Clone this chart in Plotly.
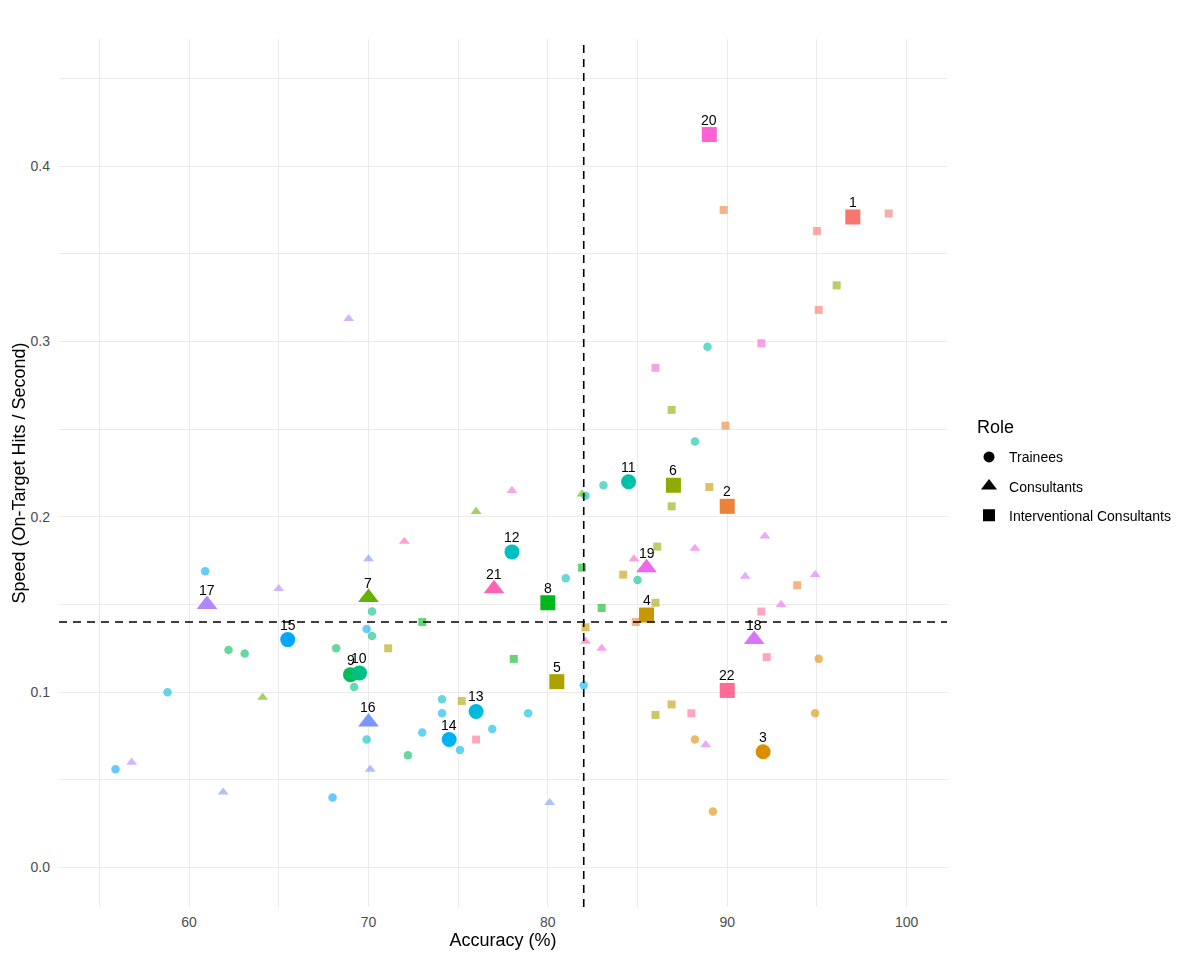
import math
import plotly.graph_objects as go

# ---------------- data ----------------
participant_ids = list(range(1, 23))
participant_roles = [
    "Interventional Consultants", "Interventional Consultants", "Trainees",
    "Interventional Consultants", "Interventional Consultants", "Interventional Consultants",
    "Consultants", "Interventional Consultants", "Trainees", "Trainees", "Trainees",
    "Trainees", "Trainees", "Trainees", "Trainees", "Consultants", "Consultants",
    "Consultants", "Consultants", "Interventional Consultants", "Consultants",
    "Interventional Consultants",
]
mean_accuracy = [97.0, 90.0, 92.0, 85.5, 80.5, 87.0, 70.0, 80.0, 69.0, 69.5, 84.5,
                 78.0, 76.0, 74.5, 65.5, 70.0, 61.0, 91.5, 85.5, 89.0, 77.0, 90.0]
mean_speed = [0.371, 0.206, 0.066, 0.144, 0.106, 0.218, 0.154, 0.151, 0.110, 0.111, 0.220,
              0.180, 0.089, 0.073, 0.130, 0.083, 0.150, 0.130, 0.171, 0.418, 0.159, 0.101]

trial_participant = [1, 1, 1,
                     2, 2, 2, 2,
                     3, 3, 3, 3,
                     4, 4, 4, 4,
                     5, 5, 5, 5,
                     6, 6, 6, 6,
                     7, 7, 7,
                     8, 8, 8, 8,
                     9, 9, 9, 9,
                     10, 10, 10, 10,
                     11, 11, 11,
                     12, 12, 12, 12,
                     13, 13, 13, 13,
                     14, 14, 14, 14,
                     15, 15, 15,
                     16, 16, 16, 16,
                     17, 17, 17,
                     18, 18, 18, 18,
                     19, 19, 19, 19,
                     20, 20,
                     21, 21, 21,
                     22, 22, 22, 22]
trial_accuracy = [95.0, 99.0, 95.1,
                  89.8, 89.9, 93.9, 84.9,
                  95.1, 94.9, 88.2, 89.2,
                  89.0, 84.2, 82.1, 86.9,
                  86.0, 86.0, 71.1, 75.2,
                  96.1, 86.9, 86.9, 86.1,
                  81.9, 76.0, 64.1,
                  81.9, 83.0, 78.1, 73.0,
                  62.2, 63.1, 68.2, 72.2,
                  85.0, 70.2, 70.2, 69.2,
                  88.9, 83.1, 88.2,
                  82.1, 81.0, 74.1, 69.9,
                  78.9, 58.8, 76.9, 75.1,
                  82.0, 69.9, 74.1, 73.0,
                  60.9, 55.9, 68.0,
                  80.1, 70.0, 70.1, 61.9,
                  65.0, 56.8, 68.9,
                  92.1, 91.0, 94.9, 88.8,
                  78.0, 88.2, 93.0, 83.0,
                  91.9, 86.0,
                  84.8, 82.1, 72.0,
                  91.9, 92.2, 88.0, 76.0]
trial_speed = [0.363, 0.373, 0.318,
               0.375, 0.252, 0.161, 0.140,
               0.119, 0.088, 0.073, 0.032,
               0.217, 0.167, 0.137, 0.093,
               0.151, 0.087, 0.125, 0.095,
               0.332, 0.261, 0.206, 0.183,
               0.213, 0.203, 0.097,
               0.171, 0.148, 0.119, 0.140,
               0.124, 0.122, 0.125, 0.064,
               0.164, 0.146, 0.132, 0.103,
               0.297, 0.218, 0.243,
               0.212, 0.165, 0.096, 0.073,
               0.088, 0.100, 0.079, 0.067,
               0.104, 0.136, 0.088, 0.077,
               0.169, 0.056, 0.040,
               0.037, 0.176, 0.056, 0.043,
               0.159, 0.060, 0.313,
               0.189, 0.166, 0.167, 0.070,
               0.215, 0.182, 0.150, 0.125,
               0.299, 0.285,
               0.176, 0.129, 0.186,
               0.146, 0.120, 0.088, 0.073]

role_levels = ["Trainees", "Consultants", "Interventional Consultants"]
accuracy_cutoff = 82.0
speed_cutoff = 0.140


# ---------------- ggplot-like hue palette ----------------
def hcl_to_hex(h, c=100.0, l=65.0):
    WHITE_Y, WHITE_u, WHITE_v = 100.0, 0.1978398, 0.4683363
    hr = math.radians(h)
    U, V = c * math.cos(hr), c * math.sin(hr)
    Y = WHITE_Y * (((l + 16) / 116) ** 3 if l > 7.999592 else l / 903.3)
    u = U / (13 * l) + WHITE_u
    v = V / (13 * l) + WHITE_v
    X = 9.0 * Y * u / (4 * v)
    Z = -X / 3 - 5 * Y + 3 * Y / v

    def gt(x):
        return 1.055 * x ** (1 / 2.4) - 0.055 if x > 0.00304 else 12.92 * x

    r = gt((3.240479 * X - 1.537150 * Y - 0.498535 * Z) / WHITE_Y)
    g = gt((-0.969256 * X + 1.875992 * Y + 0.041556 * Z) / WHITE_Y)
    b = gt((0.055648 * X - 0.204043 * Y + 1.057311 * Z) / WHITE_Y)
    return "#%02X%02X%02X" % tuple(int(round(max(0, min(1, t)) * 255)) for t in (r, g, b))


n = len(participant_ids)
palette = {pid: hcl_to_hex(15 + i * 360.0 / n) for i, pid in enumerate(participant_ids)}
role_of = dict(zip(participant_ids, participant_roles))

symbols = {"Trainees": "circle", "Consultants": "triangle-up", "Interventional Consultants": "square"}
small_size = {"Trainees": 8.5, "Consultants": 9.5, "Interventional Consultants": 8}
big_size = {"Trainees": 15, "Consultants": 18, "Interventional Consultants": 15}
legend_size = {"Trainees": 11, "Consultants": 14, "Interventional Consultants": 12}

fig = go.Figure()

# individual (small, translucent) points
for role in role_levels:
    idx = [i for i, p in enumerate(trial_participant) if role_of[p] == role]
    fig.add_trace(go.Scatter(
        x=[trial_accuracy[i] for i in idx],
        y=[trial_speed[i] for i in idx],
        mode="markers",
        marker=dict(symbol=symbols[role], size=small_size[role],
                    color=[palette[trial_participant[i]] for i in idx],
                    line=dict(width=0)),
        opacity=0.6,
        showlegend=False, hoverinfo="skip",
    ))

# participant summary (large) points
for role in role_levels:
    idx = [i for i, r in enumerate(participant_roles) if r == role]
    fig.add_trace(go.Scatter(
        x=[mean_accuracy[i] for i in idx],
        y=[mean_speed[i] for i in idx],
        mode="markers",
        marker=dict(symbol=symbols[role], size=big_size[role],
                    color=[palette[participant_ids[i]] for i in idx],
                    line=dict(width=0)),
        showlegend=False,
    ))

# legend entries (shape only)
for k, role in enumerate(role_levels):
    fig.add_trace(go.Scatter(
        x=[None], y=[None], mode="markers", name=role,
        legendgroup=role,
        marker=dict(symbol=symbols[role], size=legend_size[role], color="black"),
    ))

# labels
for pid, xa, ys in zip(participant_ids, mean_accuracy, mean_speed):
    fig.add_annotation(x=xa, y=ys, text=str(pid), showarrow=False, yshift=15,
                       font=dict(size=14, color="black", family="Liberation Sans, Arial"))

# legend title
fig.add_annotation(xref="paper", yref="paper", x=1.0315, y=0.553, xanchor="left", yanchor="middle",
                   text="Role", showarrow=False, font=dict(size=18, color="black"))

# cutoff lines
fig.add_vline(x=accuracy_cutoff, line=dict(color="black", width=1.6, dash="8px,6px"), layer="above")
fig.add_hline(y=speed_cutoff, line=dict(color="black", width=1.6, dash="8px,6px"), layer="above")

grid = "#EBEBEB"
# the page body adds an 8px margin, so the figure is 8px smaller to fill the window exactly
fig.update_layout(
    width=1192, height=952,
    paper_bgcolor="white", plot_bgcolor="white",
    margin=dict(l=51, r=253, t=31, b=53, autoexpand=False),
    font=dict(family="Liberation Sans, Arial", color="black"),
    xaxis=dict(
        range=[52.75, 102.25], tickvals=[60, 70, 80, 90, 100], automargin=False,
        showgrid=True, gridcolor=grid, gridwidth=1.1, zeroline=False, showline=False,
        ticks="", tickfont=dict(size=14, color="#4D4D4D"), ticklabelstandoff=5,
        minor=dict(tickvals=[55, 65, 75, 85, 95], showgrid=True, gridcolor=grid, gridwidth=0.55),
        title=dict(text="Accuracy (%)", font=dict(size=18, color="black"), standoff=4),
    ),
    yaxis=dict(
        range=[-0.0225, 0.4725], tickvals=[0.0, 0.1, 0.2, 0.3, 0.4], tickformat=".1f",
        automargin=False,
        showgrid=True, gridcolor=grid, gridwidth=1.1, zeroline=False, showline=False,
        ticks="", tickfont=dict(size=14, color="#4D4D4D"), ticklabelstandoff=8,
        minor=dict(tickvals=[0.05, 0.15, 0.25, 0.35, 0.45], showgrid=True, gridcolor=grid, gridwidth=0.55),
        title=dict(text="Speed (On-Target Hits / Second)", font=dict(size=18, color="black"), standoff=0),
    ),
    legend=dict(
        font=dict(size=14, color="black"),
        x=1.0248, xanchor="left", y=0.5365, yanchor="top",
        tracegroupgap=8, itemsizing="trace",
        bgcolor="rgba(0,0,0,0)",
    ),
)

fig.write_html("out.html")
